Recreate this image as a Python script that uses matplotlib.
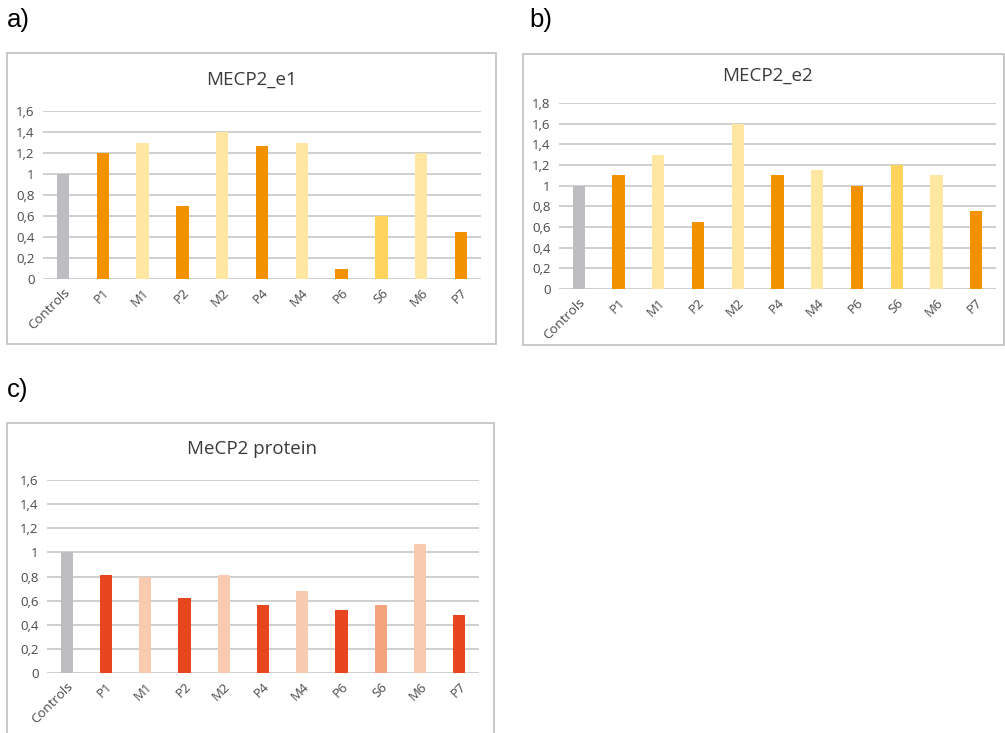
import matplotlib
matplotlib.use("Agg")
import matplotlib.pyplot as plt
from matplotlib.patches import Rectangle
from matplotlib.ticker import FuncFormatter

categories = ["Controls", "P1", "M1", "P2", "M2", "P4", "M4", "P6", "S6", "M6", "P7"]
e1_values = [1.0, 1.2, 1.3, 0.7, 1.4, 1.27, 1.3, 0.1, 0.6, 1.2, 0.45]
e2_values = [1.0, 1.1, 1.3, 0.65, 1.6, 1.1, 1.15, 1.0, 1.2, 1.1, 0.75]
protein_values = [1.0, 0.81, 0.80, 0.62, 0.81, 0.56, 0.68, 0.52, 0.56, 1.07, 0.48]

GREY = "#BDBDC1"
OR_D, OR_L, OR_S = "#F39200", "#FFE6A1", "#FFD35C"
RD_D, RD_L, RD_S = "#E8461E", "#F8CBB1", "#F4A47A"
orange_colors = [GREY, OR_D, OR_L, OR_D, OR_L, OR_D, OR_L, OR_D, OR_S, OR_L, OR_D]
red_colors = [GREY, RD_D, RD_L, RD_D, RD_L, RD_D, RD_L, RD_D, RD_S, RD_L, RD_D]

W, H = 1005, 733
fig = plt.figure(figsize=(W / 100, H / 100), dpi=100)
FONT = ["Open Sans", "DejaVu Sans"]


def px_axes(l, t, r, b):
    return fig.add_axes([l / W, 1 - b / H, (r - l) / W, (b - t) / H])


def frame(l, t, r, b):
    fig.patches.append(Rectangle((l / W, 1 - b / H), (r - l) / W, (b - t) / H,
                                 transform=fig.transFigure, fill=False,
                                 edgecolor="#C4C4C4", linewidth=1.3))


def panel(rect, vals, colors, ymax, title, title_xy):
    ax = px_axes(*rect)
    x = range(len(categories))
    ax.bar(x, vals, width=0.31, color=colors, zorder=3)
    ax.set_xlim(-0.5, len(categories) - 0.5)
    ax.set_ylim(0, ymax)
    ticks = [round(i * 0.2, 1) for i in range(int(round(ymax / 0.2)) + 1)]
    ax.set_yticks(ticks)
    ax.yaxis.set_major_formatter(FuncFormatter(
        lambda v, p: "0" if v == 0 else ("1" if abs(v - 1) < 1e-9 else f"{v:.1f}".replace(".", ","))))
    ax.set_xticks(list(x))
    ax.set_xticklabels(categories, rotation=45, ha="right", va="top",
                       rotation_mode="anchor", fontsize=9.5, color="#4A4A4A", family=FONT)
    for lab in ax.get_yticklabels():
        lab.set_fontsize(9.5)
        lab.set_color("#4A4A4A")
        lab.set_family(FONT)
    ax.tick_params(axis="both", length=0, pad=6)
    ax.tick_params(axis="x", pad=5)
    ax.grid(axis="y", color="#CFCFCF", linewidth=1.4, zorder=0)
    for s in ax.spines.values():
        s.set_visible(False)
    ax.set_facecolor("none")
    fig.text(title_xy[0] / W, 1 - title_xy[1] / H, title, ha="center", va="center",
             fontsize=13.5, color="#3A3A3A", family=FONT)
    return ax


frame(7, 53, 496, 344)
frame(523, 54, 1004, 345)
frame(7, 423, 494, 740)

panel((43, 111, 481, 279), e1_values, orange_colors, 1.6, "MECP2_e1", (252, 80))
panel((559, 103, 996, 289), e2_values, orange_colors, 1.8, "MECP2_e2", (767, 76))
panel((47, 480, 479, 673), protein_values, red_colors, 1.6, "MeCP2 protein", (252, 449))

for lbl, (px, py) in [("a)", (7, 20)), ("b)", (529, 20)), ("c)", (7, 390))]:
    fig.text(px / W, 1 - py / H, lbl, ha="left", va="center", fontsize=18.5,
             family=["Liberation Sans", "DejaVu Sans"], color="black")

fig.savefig("out.png", dpi=100)
